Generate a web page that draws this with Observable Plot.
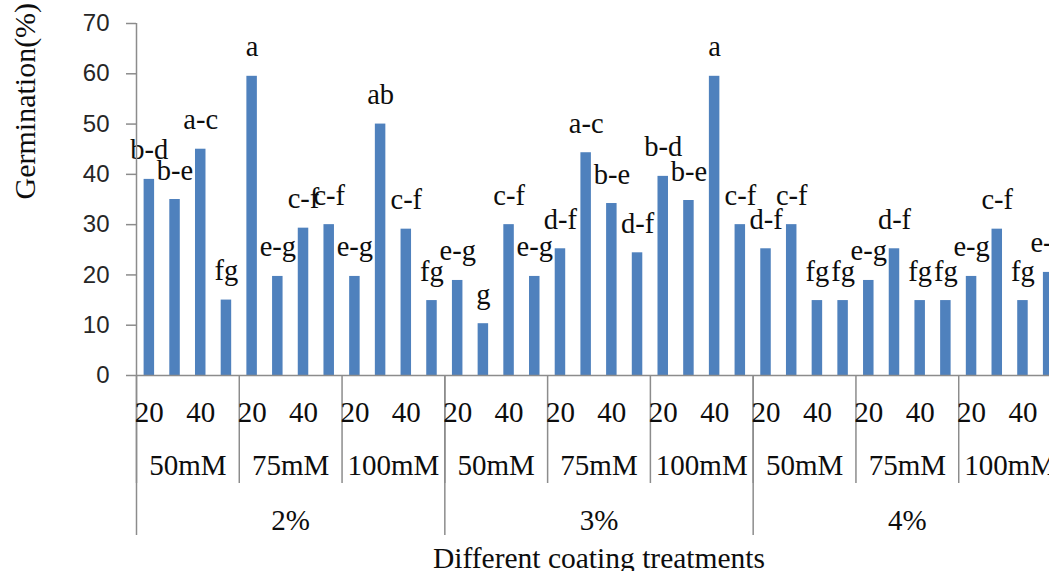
<!DOCTYPE html>
<html>
<head>
<meta charset="utf-8">
<script src="https://cdn.jsdelivr.net/npm/d3@7"></script>
<script src="https://cdn.jsdelivr.net/npm/@observablehq/plot@0.6"></script>
<style>
  html, body { margin: 0; padding: 0; background: #fff; overflow: hidden; width: 1049px; height: 571px; }
  #chart svg { max-width: none !important; display: block; }
</style>
</head>
<body>
<div id="chart"></div>
<script>
// Hierarchical categories (outer → inner)
const percents = ["2%", "3%", "4%"];
const concentrations = ["50mM", "75mM", "100mM"];
const levels = [20, 30, 40, 50];
const shownLevels = [20, 40];

// Germination (%) per bar, in order 2%/50mM/20 … 4%/100mM/50
const germination = [
  39.0, 35.0, 45.0, 15.0,
  59.5, 19.7, 29.3, 30.0,
  19.7, 50.0, 29.1, 14.9,
  18.9, 10.3, 30.0, 19.7,
  25.2, 44.3, 34.2, 24.4,
  39.6, 34.8, 59.5, 30.0,
  25.2, 30.0, 14.9, 14.9,
  18.9, 25.2, 14.9, 14.9,
  19.7, 29.1, 14.9, 20.5
];
const letters = [
  "b-d", "b-e", "a-c", "fg",
  "a", "e-g", "c-f", "c-f",
  "e-g", "ab", "c-f", "fg",
  "e-g", "g", "c-f", "e-g",
  "d-f", "a-c", "b-e", "d-f",
  "b-d", "b-e", "a", "c-f",
  "d-f", "c-f", "fg", "fg",
  "e-g", "d-f", "fg", "fg",
  "e-g", "c-f", "fg", "e-g"
];
const yTicks = [0, 10, 20, 30, 40, 50, 60, 70];
const yTitle = "Germination(%)";
const xTitle = "Different coating treatments";

const nL = levels.length, nC = concentrations.length;
const rows = germination.map((v, i) => ({
  i, v, letter: letters[i],
  level: levels[i % nL],
  conc: concentrations[Math.floor(i / nL) % nC],
  pct: percents[Math.floor(i / (nL * nC))]
}));
const concGroups = d3.range(percents.length * nC).map(g => ({g, name: concentrations[g % nC]}));
const pctGroups = percents.map((name, p) => ({p, name}));
const total = rows.length;

const serif = "'Liberation Serif', 'Times New Roman', serif";
const sans = "'Liberation Sans', Arial, sans-serif";
const axisColor = "#8c8c8c";
const ink = "#0d0d0d";

const chart = Plot.plot({
  width: 1075,
  height: 571,
  marginLeft: 136,
  marginRight: 14,
  marginTop: 23,
  marginBottom: 196,
  x: {domain: [0, total], axis: null},
  y: {domain: [0, 70], axis: null},
  marks: [
    Plot.rectY(rows, {
      x1: d => d.i, x2: d => d.i + 1, y: "v",
      insetLeft: 7.6, insetRight: 7.6, fill: "#4F81BD"
    }),
    Plot.text(rows, {
      x: d => d.i + 0.5, y: "v", text: "letter",
      lineAnchor: "bottom", dy: -20,
      fontFamily: serif, fontSize: 28.5, fill: ink
    }),
    Plot.axisY(yTicks, {
      anchor: "left", tickSize: 10, tickPadding: 17,
      fontFamily: sans, fontSize: 24, fill: "#262626",
      stroke: axisColor, strokeWidth: 1.5, label: null
    }),
    Plot.ruleX([0], {stroke: axisColor, strokeWidth: 1.5}),
    Plot.ruleY([0], {stroke: axisColor, strokeWidth: 1.5}),
    // short dividers between concentration groups
    Plot.axisX(concGroups.map(d => d.g * nL), {
      anchor: "bottom", tickSize: 108, tickFormat: () => "",
      stroke: axisColor, strokeWidth: 1.5, label: null
    }),
    // long dividers between percentage groups
    Plot.axisX(pctGroups.map(d => d.p * nL * nC), {
      anchor: "bottom", tickSize: 160, tickFormat: () => "",
      stroke: axisColor, strokeWidth: 1.5, label: null
    }),
    Plot.text(rows.filter(d => shownLevels.includes(d.level)), {
      x: d => d.i + 0.5, text: d => String(d.level),
      frameAnchor: "bottom", lineAnchor: "middle", dy: 37,
      fontFamily: serif, fontSize: 29, fill: ink
    }),
    Plot.text(concGroups, {
      x: d => d.g * nL + nL / 2, text: "name",
      frameAnchor: "bottom", lineAnchor: "middle", dy: 90,
      fontFamily: serif, fontSize: 29, fill: ink
    }),
    Plot.text(pctGroups, {
      x: d => d.p * nL * nC + nL * nC / 2, text: "name",
      frameAnchor: "bottom", lineAnchor: "middle", dy: 145,
      fontFamily: serif, fontSize: 29, fill: ink
    }),
    Plot.text([xTitle], {
      text: d => d, frameAnchor: "bottom", lineAnchor: "middle", dy: 183,
      fontFamily: serif, fontSize: 29.5, fill: ink
    }),
    Plot.text([yTitle], {
      text: d => d, frameAnchor: "left", rotate: -90, lineAnchor: "middle", dx: -111,
      fontFamily: serif, fontSize: 30, fill: ink
    })
  ]
});
document.getElementById("chart").appendChild(chart);
</script>
</body>
</html>
